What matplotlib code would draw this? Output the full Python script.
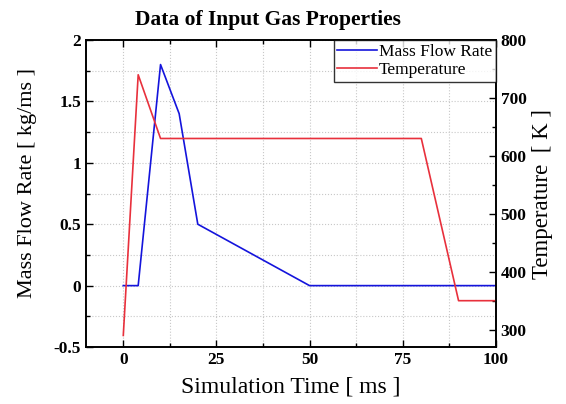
import numpy as np
import matplotlib.pyplot as plt
from matplotlib.ticker import MultipleLocator

# mass flow rate [kg/ms] vs time [ms]
flowTime = [0, 4, 10, 15, 20, 50, 100]
flowRate = [0, 0, 1.8, 1.4, 0.5, 0, 0]

# gas temperature [K] vs time [ms]
tempTime = [0, 4, 10, 80, 90, 100]
tempVal = [290, 740, 630, 630, 350, 350]

xTicks = [0, 25, 50, 75, 100]
leftTicks = [-0.5, 0, 0.5, 1, 1.5, 2]
rightTicks = [300, 400, 500, 600, 700, 800]

plt.rcParams['font.family'] = ['Liberation Serif', 'DejaVu Serif']

fig = plt.figure(figsize=(5.66, 4.04), dpi=100)
ax = fig.add_axes([0.152, 0.141, 0.724, 0.760])
ax2 = ax.twinx()

l1, = ax.plot(flowTime, flowRate, color='#1414dc', lw=1.2, label='Mass Flow Rate')
l2, = ax2.plot(tempTime, tempVal, color='#e8303c', lw=1.2, label='Temperature')

ax.set_xlim(-10, 100)
ax.set_ylim(-0.5, 2)
ax2.set_ylim(270, 800)

ax.set_xticks(xTicks)
ax.xaxis.set_minor_locator(MultipleLocator(12.5))
ax.set_yticks(leftTicks)
ax.set_yticklabels(['-0.5', '0', '0.5', '1', '1.5', '2'])
ax.yaxis.set_minor_locator(MultipleLocator(0.25))
ax2.set_yticks(rightTicks)
ax2.yaxis.set_minor_locator(MultipleLocator(50))

ax.grid(True, which='both', color='#c8c8c8', ls=':', lw=0.8)
ax.set_axisbelow(True)

ax.tick_params(which='both', direction='in', top=True, labelsize=12.5, width=1)
ax.tick_params(which='major', length=5)
ax.tick_params(which='minor', length=3)
ax2.tick_params(which='both', direction='in', labelsize=12.5, width=1)
ax2.tick_params(which='major', length=5)
ax2.tick_params(which='minor', length=3)
for lab in ax.get_xticklabels() + ax.get_yticklabels() + ax2.get_yticklabels():
    lab.set_fontweight('bold')

for a in (ax, ax2):
    for s in a.spines.values():
        s.set_linewidth(1.2)

ax.set_xlabel('Simulation Time [ ms ]', fontsize=17, labelpad=6)
ax.set_ylabel('Mass Flow Rate [ kg/ms ]', fontsize=16)
ax.yaxis.set_label_coords(-0.12, 0.534)
ax2.set_ylabel('Temperature  [ K ]', fontsize=16.5)
ax.set_title('Data of Input Gas Properties', fontsize=15.5, fontweight='bold',
             x=0.445, pad=11)

leg = ax2.legend(handles=[l1, l2], loc='upper right', fontsize=12.5, frameon=True,
                 fancybox=False, borderaxespad=0, handlelength=2.3,
                 handletextpad=0.1, borderpad=0.2, labelspacing=0.15)
leg.get_frame().set_edgecolor('black')
leg.get_frame().set_linewidth(1)

fig.savefig('out.png', dpi=100)
